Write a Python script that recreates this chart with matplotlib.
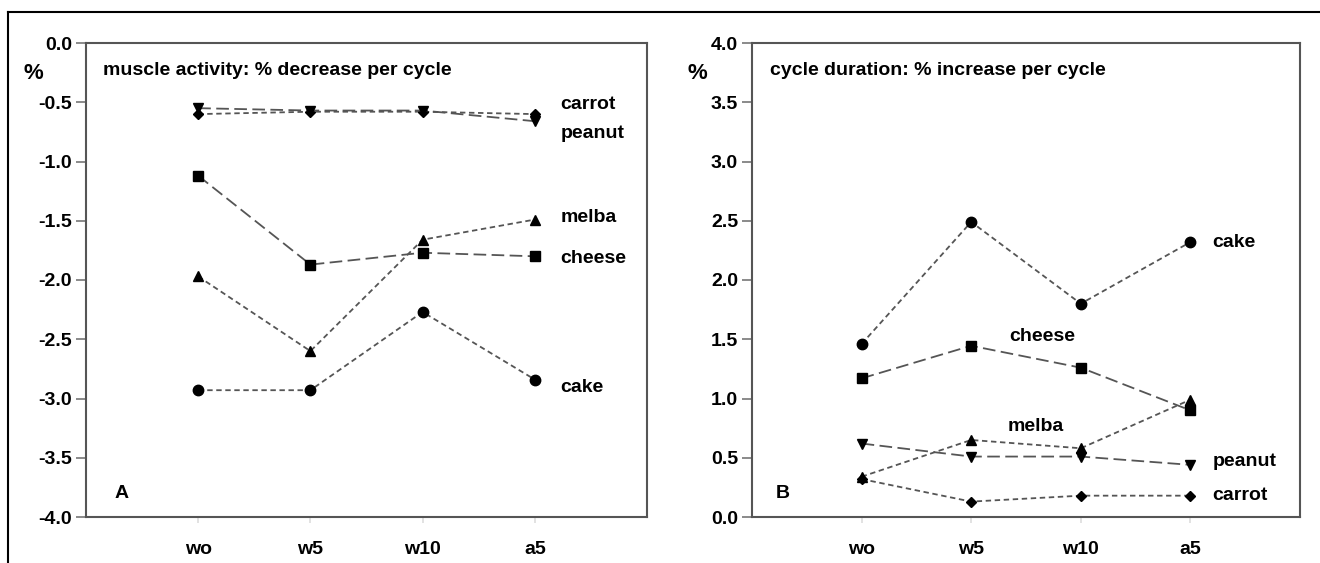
import matplotlib
matplotlib.use('Agg')
import matplotlib.pyplot as plt
from matplotlib.lines import Line2D

plt.rcParams['font.family'] = ['Liberation Sans Narrow', 'Liberation Sans', 'DejaVu Sans']
plt.rcParams['font.weight'] = 'bold'

# categories on the x axis
phases = ['wo', 'w5', 'w10', 'a5']

# panel A: muscle activity, % decrease per cycle
act_carrot = [-0.60, -0.58, -0.58, -0.60]
act_peanut = [-0.55, -0.57, -0.57, -0.66]
act_cheese = [-1.12, -1.87, -1.77, -1.80]
act_melba = [-1.97, -2.60, -1.66, -1.49]
act_cake = [-2.93, -2.93, -2.27, -2.84]

# panel B: cycle duration, % increase per cycle
dur_cake = [1.46, 2.49, 1.80, 2.32]
dur_cheese = [1.17, 1.445, 1.26, 0.90]
dur_melba = [0.34, 0.65, 0.58, 0.99]
dur_peanut = [0.62, 0.51, 0.51, 0.44]
dur_carrot = [0.32, 0.13, 0.18, 0.18]

short_dash = (0, (3, 2))
long_dash = (0, (7, 3))
line_col = '#555555'

styles = {
    'cake': ('o', short_dash, 7.5),
    'cheese': ('s', long_dash, 6.5),
    'melba': ('^', short_dash, 7.5),
    'peanut': ('v', long_dash, 7.5),
    'carrot': ('D', short_dash, 5.5),
}

fig = plt.figure(figsize=(13.2, 5.63), dpi=100)

# outer frame (left and top edges)
fig.add_artist(Line2D([8 / 1320, 8 / 1320], [0, 1 - 12 / 563], transform=fig.transFigure, color='black', lw=1.5))
fig.add_artist(Line2D([8 / 1320, 1], [1 - 12 / 563, 1 - 12 / 563], transform=fig.transFigure, color='black', lw=1.5))

axA = fig.add_axes([86 / 1320, 1 - 517 / 563, 561 / 1320, 474 / 563])
axB = fig.add_axes([752 / 1320, 1 - 517 / 563, 548 / 1320, 474 / 563])

x = list(range(len(phases)))


def draw(ax, series):
    for name, vals in series:
        m, ls, ms = styles[name]
        ax.plot(x, vals, linestyle=ls, color=line_col, lw=1.3,
                marker=m, markersize=ms, markerfacecolor='black',
                markeredgecolor='black')
    ax.set_xlim(-1, 4)
    ax.set_xticks(x)
    ax.set_xticklabels(phases)
    for sp in ax.spines.values():
        sp.set_color('#555555')
        sp.set_linewidth(1.5)
    ax.tick_params(axis='both', direction='out', length=7, width=1.2,
                   color='#777777', labelsize=14, pad=3)
    ax.tick_params(axis='x', length=4, color='#dddddd', pad=13)
    for lab in ax.get_xticklabels() + ax.get_yticklabels():
        lab.set_fontweight('bold')


lab_size = 14

# panel A
draw(axA, [('carrot', act_carrot), ('peanut', act_peanut), ('cheese', act_cheese),
           ('melba', act_melba), ('cake', act_cake)])
axA.set_ylim(-4, 0)
axA.set_yticks([0, -0.5, -1, -1.5, -2, -2.5, -3, -3.5, -4])
axA.set_yticklabels(['0.0', '-0.5', '-1.0', '-1.5', '-2.0', '-2.5', '-3.0', '-3.5', '-4.0'])
axA.text(-0.094, 0.935, '%', transform=axA.transAxes, fontsize=16, fontweight='bold',
         ha='center', va='center')
axA.text(0.03, 0.942, 'muscle activity: % decrease per cycle', transform=axA.transAxes,
         fontsize=14, fontweight='bold', va='center')
axA.text(0.05, 0.05, 'A', transform=axA.transAxes, fontsize=14, fontweight='bold', va='center')
axA.text(3.23, -0.52, 'carrot', fontsize=lab_size, fontweight='bold', va='center')
axA.text(3.23, -0.76, 'peanut', fontsize=lab_size, fontweight='bold', va='center')
axA.text(3.23, -1.47, 'melba', fontsize=lab_size, fontweight='bold', va='center')
axA.text(3.23, -1.82, 'cheese', fontsize=lab_size, fontweight='bold', va='center')
axA.text(3.23, -2.91, 'cake', fontsize=lab_size, fontweight='bold', va='center')

# panel B
draw(axB, [('cake', dur_cake), ('cheese', dur_cheese), ('melba', dur_melba),
           ('peanut', dur_peanut), ('carrot', dur_carrot)])
axB.set_ylim(0, 4)
axB.set_yticks([0, 0.5, 1, 1.5, 2, 2.5, 3, 3.5, 4])
axB.set_yticklabels(['0.0', '0.5', '1.0', '1.5', '2.0', '2.5', '3.0', '3.5', '4.0'])
axB.text(-0.099, 0.935, '%', transform=axB.transAxes, fontsize=16, fontweight='bold',
         ha='center', va='center')
axB.text(0.033, 0.942, 'cycle duration: % increase per cycle', transform=axB.transAxes,
         fontsize=14, fontweight='bold', va='center')
axB.text(0.044, 0.05, 'B', transform=axB.transAxes, fontsize=14, fontweight='bold', va='center')
axB.text(3.2, 2.32, 'cake', fontsize=lab_size, fontweight='bold', va='center')
axB.text(1.35, 1.52, 'cheese', fontsize=lab_size, fontweight='bold', va='center')
axB.text(1.33, 0.76, 'melba', fontsize=lab_size, fontweight='bold', va='center')
axB.text(3.2, 0.47, 'peanut', fontsize=lab_size, fontweight='bold', va='center')
axB.text(3.2, 0.18, 'carrot', fontsize=lab_size, fontweight='bold', va='center')

fig.savefig('out.png', dpi=100)
